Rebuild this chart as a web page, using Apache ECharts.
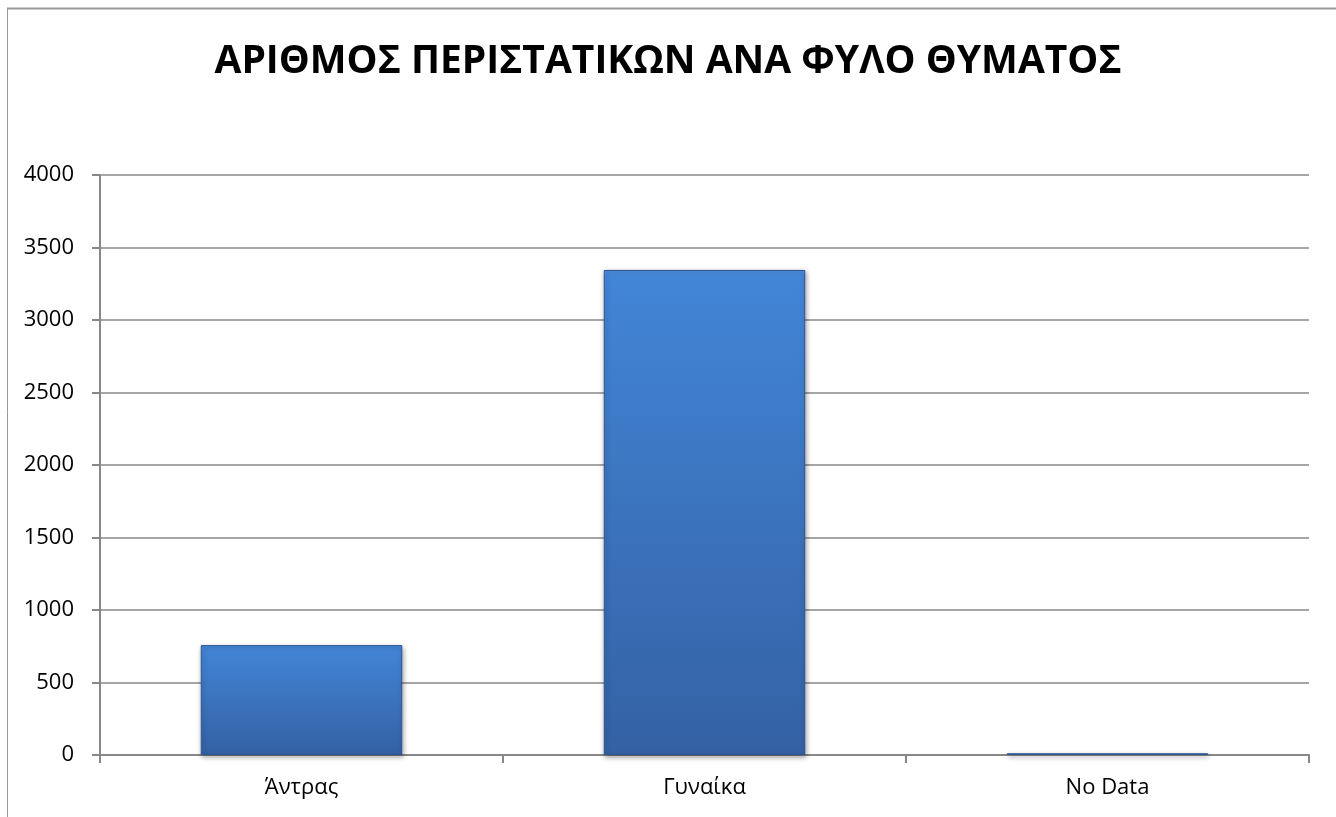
<!DOCTYPE html>
<html>
<head>
<meta charset="utf-8">
<script src="https://cdn.jsdelivr.net/npm/echarts@6/dist/echarts.min.js"></script>
<style>
    html, body { margin: 0; padding: 0; background: #fff; }
    #chart { width: 1336px; height: 817px; }
</style>
</head>
<body>
<div id="chart"></div>
<script>
    // values
    const categories = ['Άντρας', 'Γυναίκα', 'No Data'];
    const cases = [758, 3345, 12];
    const yTicks = [0, 500, 1000, 1500, 2000, 2500, 3000, 3500, 4000];

    const chart = echarts.init(document.getElementById('chart'));

    const barColor = new echarts.graphic.LinearGradient(0, 0, 0, 1, [
        {offset: 0, color: '#4a8ee0'},
        {offset: 0.02, color: '#4285d6'},
        {offset: 1, color: '#3461a4'}
    ]);

    const option = {
        backgroundColor: '#fff',
        animation: false,
        title: {
            text: 'ΑΡΙΘΜΟΣ ΠΕΡΙΣΤΑΤΙΚΩΝ ΑΝΑ ΦΥΛΟ ΘΥΜΑΤΟΣ',
            left: 'center',
            top: 37,
            textStyle: {
                fontFamily: 'Open Sans',
                fontWeight: 'bold',
                fontSize: 39,
                color: '#000'
            }
        },
        graphic: [
            // outer frame (top and left edges only are visible)
            {type: 'line', shape: {x1: 7, y1: 8.5, x2: 1336, y2: 8.5}, style: {stroke: '#9a9a9a', lineWidth: 2}},
            {type: 'line', shape: {x1: 7.5, y1: 8, x2: 7.5, y2: 817}, style: {stroke: '#9a9a9a', lineWidth: 1}}
        ],
        grid: {left: 100, right: 27, top: 175, bottom: 62},
        xAxis: {
            type: 'category',
            data: categories,
            axisLine: {lineStyle: {color: '#888', width: 2}},
            axisTick: {show: true, length: 8, lineStyle: {color: '#888', width: 2}},
            axisLabel: {
                margin: 22,
                fontFamily: 'Open Sans',
                fontSize: 22,
                color: '#000'
            }
        },
        yAxis: {
            type: 'value',
            min: yTicks[0],
            max: yTicks[yTicks.length - 1],
            interval: 500,
            axisLine: {show: true, lineStyle: {color: '#888', width: 2}},
            axisTick: {show: true, length: 8, lineStyle: {color: '#888', width: 2}},
            splitLine: {lineStyle: {color: '#888', width: 1.5}},
            axisLabel: {
                margin: 26,
                fontFamily: 'Open Sans',
                fontSize: 22,
                color: '#000',
                formatter: v => String(v)
            }
        },
        series: [{
            type: 'bar',
            data: cases,
            barWidth: '50%',
            itemStyle: {
                color: barColor,
                borderColor: '#2c5592',
                borderWidth: 1,
                shadowColor: 'rgba(0,0,0,0.35)',
                shadowBlur: 5,
                shadowOffsetX: 1,
                shadowOffsetY: 2
            }
        }]
    };

    chart.setOption(option);
</script>
</body>
</html>
